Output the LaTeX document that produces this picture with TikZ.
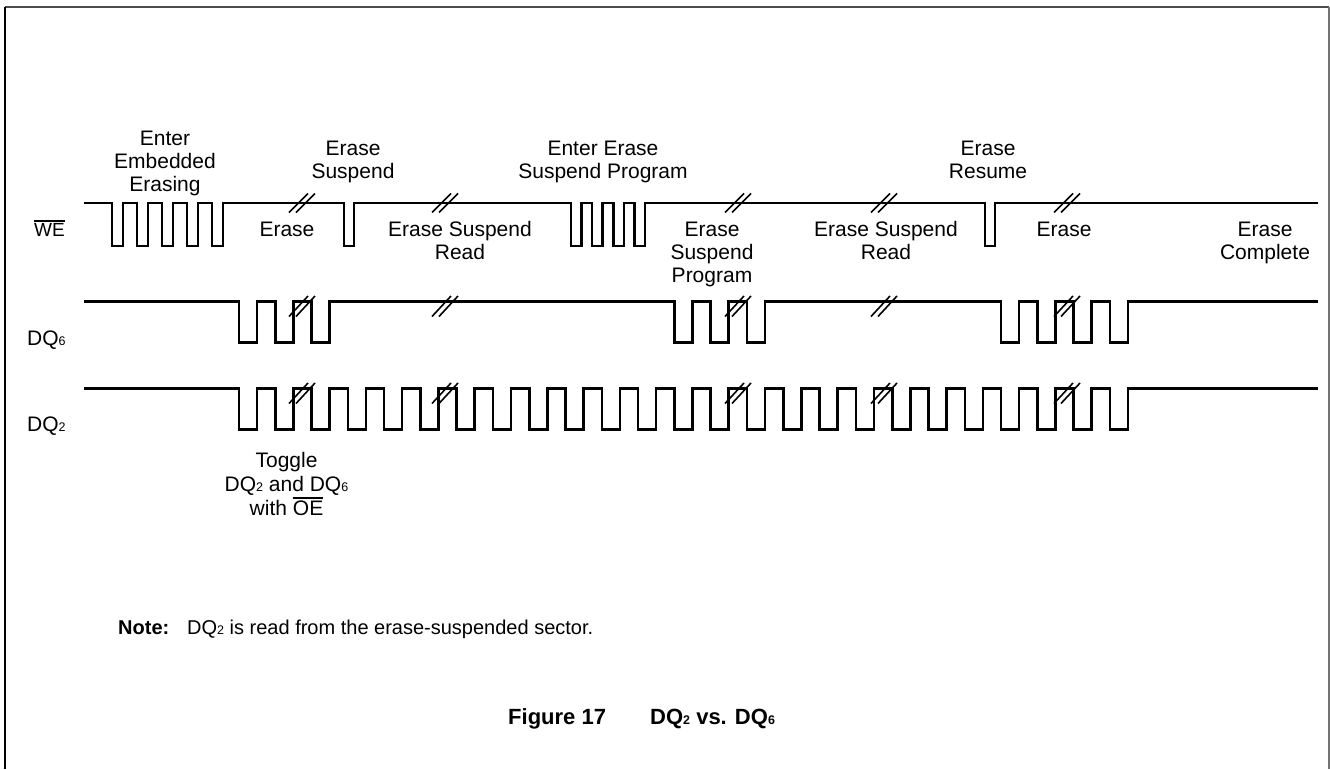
\documentclass[tikz,border=0pt]{standalone}
\usepackage{fontspec}
\setmainfont{Liberation Sans}
\newcommand\lblfont{\fontsize{21}{23}\selectfont}
\newcommand\notefont{\fontsize{20}{23}\selectfont}
\newcommand\capfont{\fontsize{22}{24}\selectfont\bfseries}
\newcommand\sbs[1]{{\fontsize{12.5}{12.5}\selectfont #1}}
\newcommand\ovl[1]{\vbox{\hrule height 1.5pt\kern 1.8pt\hbox{#1}}}
\tikzset{
  wave/.style={line width=2.6pt, line join=miter, line cap=rect},
  brk/.style={line width=1.6pt},
  txt/.style={font=\lblfont, inner sep=0pt, anchor=base},
  lft/.style={font=\lblfont, inner sep=0pt, anchor=base west},
}
\begin{document}
\begin{tikzpicture}[x=1pt,y=-1pt]
\useasboundingbox (0,0) rectangle (1330,769);
% frame
\draw[line width=2pt, draw=black!70] (5,7) -- (1329,7);
\draw[line width=1.8pt, draw=black] (5,7) -- (5,769);
\draw[line width=1.8pt, draw=black!55] (1329,7) -- (1329,769);

% WE waveform
\draw[wave] (85,203)
  foreach \i in {0,...,4} { -- ({112+25*\i},203) -- ({112+25*\i},246) -- ({123+25*\i},246) -- ({123+25*\i},203) }
  -- (344,203) -- (344,246) -- (354,246) -- (354,203)
  foreach \i in {0,...,3} { -- ({571+21.14*\i},203) -- ({571+21.14*\i},246) -- ({581.57+21.14*\i},246) -- ({581.57+21.14*\i},203) }
  -- (985,203) -- (985,246) -- (995,246) -- (995,203) -- (1317,203);

% DQ6 waveform
\draw[wave] (85,301.5)
  foreach \k in {0,1,2,12,13,14,21,22,23,24} { -- ({239+36.29*\k},301.5) -- ({239+36.29*\k},342.5) -- ({257+36.29*\k},342.5) -- ({257+36.29*\k},301.5) }
  -- (1317,301.5);

% DQ2 waveform
\draw[wave] (85,388.5)
  foreach \k in {0,...,24} { -- ({239+36.29*\k},388.5) -- ({239+36.29*\k},429.5) -- ({257+36.29*\k},429.5) -- ({257+36.29*\k},388.5) }
  -- (1317,388.5);

% break marks
\foreach \cx in {302,445,738,884,1067}{
  \foreach \o in {-3.5,3.5}{
    \draw[brk] ({\cx+\o-9.5},212.5) -- ({\cx+\o+9.5},193.5);
    \draw[brk] ({\cx+\o-9.5},316.5) -- ({\cx+\o+9.5},296);
    \draw[brk] ({\cx+\o-9.5},403.5) -- ({\cx+\o+9.5},383);
  }
}

% signal names
\node[lft, font=\fontsize{19}{23}\selectfont] (we) at (34,236.5) {\ovl{WE}};
\node[lft] (dq6) at (27,345) {DQ\sbs{6}};
\node[lft] (dq2) at (27,431) {DQ\sbs{2}};

% labels above WE
\node[txt] (a1) at (165,145.5) {Enter};
\node[txt] (a2) at (165,168.5) {Embedded};
\node[txt] (a3) at (165,191) {Erasing};
\node[txt] (b1) at (353,155) {Erase};
\node[txt] (b2) at (353,178) {Suspend};
\node[txt] (c1) at (603,155) {Enter Erase};
\node[txt] (c2) at (603,178) {Suspend Program};
\node[txt] (d1) at (988,155) {Erase};
\node[txt] (d2) at (988,178) {Resume};

% labels below WE
\node[txt] (e1) at (287,236.5) {Erase};
\node[txt] (f1) at (460,236.5) {Erase Suspend};
\node[txt] (f2) at (460,259.5) {Read};
\node[txt] (g1) at (712,236.5) {Erase};
\node[txt] (g2) at (712,259.5) {Suspend};
\node[txt] (g3) at (712,282.5) {Program};
\node[txt] (h1) at (886,236.5) {Erase Suspend};
\node[txt] (h2) at (886,259.5) {Read};
\node[txt] (i1) at (1064,236.5) {Erase};
\node[txt] (j1) at (1265,236.5) {Erase};
\node[txt] (j2) at (1265,259.5) {Complete};

% toggle note
\node[txt] (k1) at (286.5,467) {Toggle};
\node[txt] (k2) at (286.5,491) {DQ\sbs{2} and DQ\sbs{6}};
\node[txt] (k3) at (286.5,515) {with \ovl{OE}};

% note and caption
\node[lft, font=\notefont] (note) at (118,634) {\textbf{Note:}};
\node[lft, font=\notefont] (notetxt) at (187,634) {DQ\sbs{2} is read from the erase-suspended sector.};
\node[lft, font=\capfont] (cap1) at (508,724) {Figure 17};
\node[lft, font=\capfont] (cap2) at (650,724) {DQ\sbs{2} vs. DQ\sbs{6}};
\end{tikzpicture}
\end{document}
